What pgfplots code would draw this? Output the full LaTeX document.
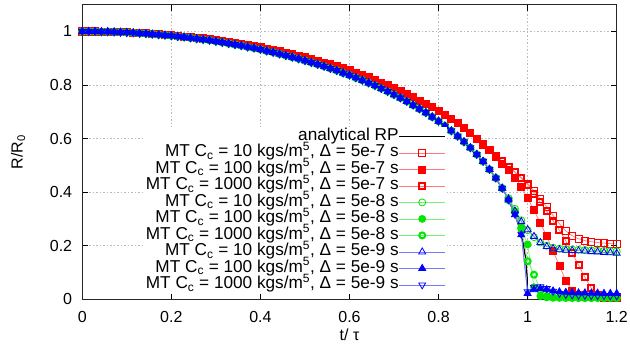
\documentclass[border=0pt]{standalone}
\usepackage{fontspec}
\setmainfont{Liberation Sans}
\usepackage{pgfplots}
\usepackage{pgfplotstable}
\pgfplotsset{compat=1.18}
\definecolor{mred}{HTML}{FF0000}
\definecolor{lred}{HTML}{FF7878}
\definecolor{mgreen}{HTML}{00E600}
\definecolor{lgreen}{HTML}{78F078}
\definecolor{mblue}{HTML}{0000FF}
\definecolor{lblue}{HTML}{7878FF}

\pgfplotstableread{
t r10 r100 r1000 g10 g100 g1000 b10 b100 b1000
0.0000 1.000 1.000 1.000 1.000 1.000 1.000 1.000 1.000 1.000
0.0143 1.000 1.000 1.000 1.000 1.000 1.000 1.000 1.000 1.000
0.0286 1.000 1.000 1.000 1.000 1.000 1.000 1.000 1.000 1.000
0.0429 0.999 0.999 0.999 0.999 0.999 0.999 0.999 0.999 0.999
0.0571 0.999 0.999 0.999 0.999 0.999 0.999 0.999 0.999 0.999
0.0714 0.998 0.998 0.998 0.998 0.998 0.998 0.998 0.998 0.998
0.0857 0.997 0.997 0.997 0.997 0.997 0.997 0.997 0.997 0.997
0.1000 0.997 0.997 0.997 0.996 0.996 0.996 0.996 0.996 0.996
0.1143 0.995 0.995 0.995 0.995 0.995 0.995 0.995 0.995 0.995
0.1286 0.994 0.994 0.994 0.993 0.993 0.993 0.993 0.993 0.993
0.1429 0.993 0.993 0.993 0.992 0.992 0.992 0.992 0.992 0.992
0.1571 0.991 0.991 0.991 0.990 0.990 0.990 0.990 0.990 0.990
0.1714 0.990 0.990 0.990 0.988 0.988 0.988 0.988 0.988 0.988
0.1857 0.988 0.988 0.988 0.986 0.986 0.986 0.986 0.986 0.986
0.2000 0.986 0.986 0.986 0.984 0.984 0.984 0.984 0.984 0.984
0.2143 0.984 0.984 0.984 0.981 0.981 0.981 0.981 0.981 0.981
0.2286 0.981 0.981 0.981 0.979 0.979 0.979 0.979 0.979 0.979
0.2429 0.979 0.979 0.979 0.976 0.976 0.976 0.976 0.976 0.976
0.2571 0.976 0.976 0.976 0.973 0.973 0.973 0.973 0.973 0.973
0.2714 0.974 0.974 0.974 0.970 0.970 0.970 0.970 0.970 0.970
0.2857 0.971 0.971 0.971 0.967 0.967 0.967 0.967 0.967 0.967
0.3000 0.967 0.967 0.967 0.963 0.963 0.963 0.963 0.963 0.963
0.3143 0.964 0.964 0.964 0.959 0.959 0.959 0.959 0.959 0.959
0.3286 0.961 0.961 0.961 0.955 0.955 0.955 0.955 0.955 0.955
0.3429 0.957 0.957 0.957 0.951 0.951 0.951 0.951 0.951 0.951
0.3571 0.953 0.953 0.953 0.947 0.947 0.947 0.947 0.947 0.947
0.3714 0.949 0.949 0.949 0.942 0.942 0.942 0.942 0.942 0.942
0.3857 0.945 0.945 0.945 0.938 0.938 0.938 0.938 0.938 0.938
0.4000 0.941 0.941 0.941 0.933 0.933 0.933 0.933 0.933 0.933
0.4143 0.936 0.936 0.936 0.927 0.927 0.927 0.927 0.927 0.927
0.4286 0.931 0.931 0.931 0.922 0.922 0.922 0.922 0.922 0.922
0.4429 0.926 0.926 0.926 0.916 0.916 0.916 0.916 0.916 0.916
0.4571 0.921 0.921 0.921 0.910 0.910 0.910 0.910 0.910 0.910
0.4714 0.915 0.915 0.915 0.904 0.904 0.904 0.904 0.904 0.904
0.4857 0.910 0.910 0.910 0.898 0.898 0.898 0.898 0.898 0.898
0.5000 0.904 0.904 0.904 0.891 0.891 0.891 0.891 0.891 0.891
0.5143 0.898 0.898 0.898 0.884 0.884 0.884 0.884 0.884 0.884
0.5286 0.891 0.891 0.891 0.877 0.877 0.877 0.877 0.877 0.877
0.5429 0.884 0.884 0.884 0.870 0.870 0.870 0.870 0.870 0.870
0.5571 0.877 0.877 0.877 0.862 0.862 0.862 0.862 0.862 0.862
0.5714 0.870 0.870 0.870 0.854 0.854 0.854 0.854 0.854 0.854
0.5857 0.862 0.862 0.862 0.845 0.845 0.845 0.845 0.845 0.845
0.6000 0.855 0.855 0.855 0.837 0.837 0.837 0.837 0.837 0.837
0.6143 0.846 0.846 0.846 0.827 0.827 0.827 0.827 0.827 0.827
0.6286 0.838 0.838 0.838 0.818 0.818 0.818 0.818 0.818 0.818
0.6429 0.829 0.829 0.829 0.808 0.808 0.808 0.808 0.808 0.808
0.6571 0.819 0.819 0.819 0.798 0.798 0.798 0.798 0.798 0.798
0.6714 0.809 0.809 0.809 0.787 0.787 0.787 0.787 0.787 0.787
0.6857 0.799 0.799 0.799 0.776 0.776 0.776 0.776 0.776 0.776
0.7000 0.788 0.788 0.788 0.764 0.764 0.764 0.764 0.764 0.764
0.7143 0.778 0.778 0.778 0.752 0.752 0.752 0.752 0.752 0.752
0.7286 0.766 0.766 0.766 0.739 0.739 0.739 0.739 0.739 0.739
0.7429 0.754 0.754 0.754 0.725 0.725 0.725 0.725 0.725 0.725
0.7571 0.742 0.742 0.742 0.711 0.711 0.711 0.711 0.711 0.711
0.7714 0.730 0.730 0.730 0.697 0.697 0.697 0.697 0.697 0.697
0.7857 0.717 0.717 0.717 0.681 0.681 0.681 0.681 0.681 0.681
0.8000 0.704 0.704 0.704 0.665 0.665 0.665 0.665 0.665 0.665
0.8143 0.689 0.689 0.689 0.647 0.647 0.647 0.647 0.647 0.647
0.8286 0.674 0.674 0.674 0.629 0.629 0.629 0.629 0.629 0.629
0.8429 0.657 0.657 0.657 0.609 0.609 0.609 0.609 0.609 0.609
0.8571 0.639 0.639 0.639 0.588 0.588 0.588 0.588 0.588 0.588
0.8714 0.620 0.620 0.620 0.566 0.566 0.566 0.566 0.566 0.566
0.8857 0.599 0.599 0.599 0.541 0.541 0.541 0.541 0.541 0.541
0.9000 0.578 0.578 0.578 0.515 0.515 0.515 0.515 0.515 0.515
0.9143 0.557 0.557 0.557 0.485 0.485 0.485 0.485 0.485 0.485
0.9286 0.536 0.530 0.536 0.453 0.453 0.453 0.453 0.453 0.453
0.9429 0.515 0.505 0.515 0.415 0.415 0.415 0.415 0.415 0.415
0.9571 0.495 0.482 0.495 0.378 0.371 0.371 0.375 0.371 0.371
0.9714 0.475 0.455 0.474 0.338 0.325 0.328 0.330 0.316 0.318
0.9857 0.455 0.420 0.452 0.295 0.262 0.268 0.290 0.241 0.243
1.0000 0.432 0.378 0.428 0.258 0.205 0.142 0.260 0.022 0.028
1.0143 0.405 0.332 0.395 0.232 0.045 0.092 0.235 0.036 0.045
1.0286 0.375 0.285 0.362 0.212 0.012 0.035 0.212 0.040 0.047
1.0429 0.345 0.235 0.328 0.200 0.007 0.012 0.197 0.036 0.040
1.0571 0.313 0.180 0.293 0.193 0.006 0.007 0.189 0.031 0.030
1.0714 0.282 0.125 0.258 0.189 0.006 0.006 0.185 0.028 0.022
1.0857 0.255 0.070 0.218 0.187 0.005 0.006 0.183 0.026 0.018
1.1000 0.237 0.033 0.172 0.186 0.005 0.005 0.182 0.025 0.016
1.1143 0.226 0.016 0.128 0.185 0.005 0.005 0.181 0.024 0.015
1.1286 0.219 0.010 0.082 0.184 0.005 0.005 0.180 0.024 0.015
1.1429 0.215 0.009 0.042 0.183 0.005 0.005 0.178 0.023 0.014
1.1571 0.212 0.008 0.016 0.182 0.005 0.005 0.177 0.023 0.014
1.1714 0.210 0.008 0.006 0.181 0.005 0.005 0.175 0.022 0.014
1.1857 0.208 0.008 0.004 0.180 0.005 0.005 0.174 0.022 0.013
1.2000 0.206 0.008 0.004 0.179 0.005 0.005 0.172 0.022 0.013
}\data

\newcommand{\lgfont}{\fontsize{16bp}{19bp}\selectfont}
\newcommand{\legfont}{\fontsize{17.2bp}{19bp}\selectfont}

\begin{document}
\begin{tikzpicture}[font=\lgfont]
\path[use as bounding box] (-82.3bp,-52.7bp) rectangle (547.7bp,299.3bp);
\begin{axis}[
  at={(0,0)}, anchor=south west,
  scale only axis, width=534.4bp, height=294.6bp,
  xmin=0, xmax=1.2, ymin=0, ymax=1.1,
  xtick={0,0.2,...,1.2}, ytick={0,0.2,...,1.0},
  /pgf/number format/assume math mode=true,
  tick label style={font=\lgfont},
  x tick label style={inner ysep=0pt, yshift=-11.5bp},
  y tick label style={inner xsep=0pt, xshift=-10bp},
  tick align=inside, major tick length=6bp,
  tick style={black, line width=0.8bp},
  axis line style={black!85, line width=1bp},
  grid=major,
  major grid style={gray!55, line width=0.6bp, dash pattern=on 1.5bp off 2bp},
  xlabel={t/ τ}, ylabel={R/R\textsubscript{0}},
  label style={font=\lgfont},
  every axis x label/.style={at={(axis description cs:0.5,-0.121)}, anchor=center},
  every axis y label/.style={at={(axis description cs:-0.12,0.5)}, anchor=center, rotate=90},
  legend cell align=right, legend plot pos=right,
  legend image code/.code={\draw[mark repeat=2, mark phase=2, #1] plot coordinates {(0bp,0bp) (23bp,0bp) (46bp,0bp)};},
  legend style={at={(axis description cs:0.6825,0.585)}, anchor=north east,
    draw=none, fill=white, inner sep=1bp, font=\legfont,
    nodes={inner sep=0pt, text height=12bp, text depth=4.5bp},
    /tikz/every even column/.append style={column sep=10bp}},
]
\addplot[black, line width=1.2bp, no marks] coordinates {
(0,1) (0.1,0.996) (0.2,0.984) (0.3,0.963) (0.4,0.933) (0.5,0.891) (0.6,0.837)
(0.7,0.764) (0.75,0.718) (0.8,0.665) (0.85,0.599) (0.9,0.515) (0.925,0.461)
(0.95,0.394) (0.97,0.323) (0.98,0.275) (0.99,0.209) (0.995,0.158) (0.999,0.083) (1.0,0)};
\addlegendentry{analytical RP}

\addplot[lred, line width=0.7bp, mark=square, mark size=3.5bp, mark options={draw=mred, line width=0.8bp, solid}] table[x=t,y=r10]{\data};
\addlegendentry{MT C\textsubscript{c} = 10 kgs/m\textsuperscript{5}, Δ = 5e-7 s}
\addplot[lred, line width=0.7bp, mark=square*, mark size=3.5bp, mark options={draw=mred, fill=mred, line width=0.8bp, solid}] table[x=t,y=r100]{\data};
\addlegendentry{MT C\textsubscript{c} = 100 kgs/m\textsuperscript{5}, Δ = 5e-7 s}
\addplot[lred, line width=0.7bp, mark=square, mark size=3bp, mark options={draw=mred, line width=2bp, solid}] table[x=t,y=r1000]{\data};
\addlegendentry{MT C\textsubscript{c} = 1000 kgs/m\textsuperscript{5}, Δ = 5e-7 s}

\addplot[lgreen, line width=0.7bp, mark=o, mark size=3.5bp, mark options={draw=mgreen, line width=0.8bp, solid}] table[x=t,y=g10]{\data};
\addlegendentry{MT C\textsubscript{c} = 10 kgs/m\textsuperscript{5}, Δ = 5e-8 s}
\addplot[lgreen, line width=0.7bp, mark=*, mark size=3.5bp, mark options={draw=mgreen, fill=mgreen, line width=0.8bp, solid}] table[x=t,y=g100]{\data};
\addlegendentry{MT C\textsubscript{c} = 100 kgs/m\textsuperscript{5}, Δ = 5e-8 s}
\addplot[lgreen, line width=0.7bp, mark=o, mark size=3bp, mark options={draw=mgreen, line width=2bp, solid}] table[x=t,y=g1000]{\data};
\addlegendentry{MT C\textsubscript{c} = 1000 kgs/m\textsuperscript{5}, Δ = 5e-8 s}

\addplot[lblue, line width=0.7bp, mark=triangle, mark size=4bp, mark options={draw=mblue, line width=0.8bp, solid}] table[x=t,y=b10]{\data};
\addlegendentry{MT C\textsubscript{c} = 10 kgs/m\textsuperscript{5}, Δ = 5e-9 s}
\addplot[lblue, line width=0.7bp, mark=triangle*, mark size=4bp, mark options={draw=mblue, fill=mblue, line width=0.8bp, solid}] table[x=t,y=b100]{\data};
\addlegendentry{MT C\textsubscript{c} = 100 kgs/m\textsuperscript{5}, Δ = 5e-9 s}
\addplot[lblue, line width=0.7bp, mark=triangle, mark size=4bp, mark options={draw=mblue, line width=0.8bp, solid, rotate=180}] table[x=t,y=b1000]{\data};
\addlegendentry{MT C\textsubscript{c} = 1000 kgs/m\textsuperscript{5}, Δ = 5e-9 s}
\end{axis}
\end{tikzpicture}
\end{document}
